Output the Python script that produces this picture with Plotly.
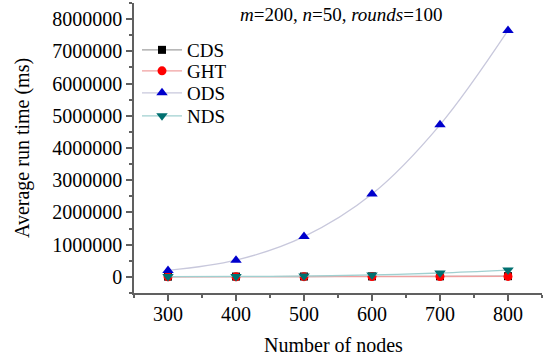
import plotly.graph_objects as go

nodes = [300, 400, 500, 600, 700, 800]
cds = [8000, 10000, 12000, 15000, 18000, 22000]
ght = [5000, 6000, 8000, 10000, 12000, 15000]
ods = [200000, 520000, 1250000, 2570000, 4720000, 7650000]
nds = [10000, 15000, 25000, 60000, 120000, 210000]

y_ticks = [0, 1000000, 2000000, 3000000, 4000000, 5000000, 6000000, 7000000, 8000000]
x_ticks = [300, 400, 500, 600, 700, 800]

FONT = "Liberation Serif, Times New Roman, serif"

W, H = 552, 358
L, R, T, B = 134, 10, 3, 65
PW, PH = W - L - R, H - T - B

series = [
    ("CDS", cds, "#a0a0a0", "black", "square", 8, 50),
    ("GHT", ght, "#f0a0a0", "red", "circle", 9, 71),
    ("ODS", ods, "#c8c8dc", "#0000cc", "triangle-up", 10, 93),
    ("NDS", nds, "#a0d0d0", "#007070", "triangle-down", 10, 116),
]

fig = go.Figure()
legend_layout = {}
for i, (name, vals, lc, mc, sym, ms, ly) in enumerate(series):
    lname = "legend" if i == 0 else f"legend{i + 1}"
    fig.add_trace(go.Scatter(
        x=nodes, y=vals, name=name, mode="lines+markers",
        line=dict(color=lc, width=1.3, shape="spline"),
        marker=dict(color=mc, symbol=sym, size=ms),
        legend=lname,
    ))
    legend_layout[lname] = dict(
        x=(137 - L) / PW, y=(H - B - ly) / PH, xanchor="left", yanchor="middle",
        bgcolor="rgba(0,0,0,0)", font=dict(size=19, family=FONT),
        itemwidth=40,
    )

fig.update_layout(
    width=W, height=H,
    margin=dict(l=L, r=R, t=T, b=B),
    paper_bgcolor="white", plot_bgcolor="white",
    font=dict(family=FONT, size=19, color="black"),
    showlegend=True,
    annotations=[
        dict(text="<i>m</i>=200, <i>n</i>=50, <i>rounds</i>=100",
             x=(341 - L) / PW, y=1.005, xref="paper", yref="paper",
             xanchor="center", yanchor="top", showarrow=False,
             font=dict(size=19, family=FONT)),
        dict(text="Number of nodes", x=(333 - L) / PW, y=-0.135, xref="paper", yref="paper",
             xanchor="center", yanchor="top", showarrow=False,
             font=dict(size=20, family=FONT)),
        dict(text="Average run time (ms)", x=(22 - L) / PW, y=0.5, xref="paper", yref="paper",
             xanchor="center", yanchor="middle", showarrow=False, textangle=-90,
             font=dict(size=20, family=FONT)),
    ],
    **legend_layout,
)

fig.update_xaxes(
    range=[250, 850], tickvals=x_ticks, ticktext=[str(v) for v in x_ticks],
    showgrid=False, zeroline=False, showline=True, linecolor="#606060", linewidth=1.5,
    ticks="outside", ticklen=6, tickcolor="#606060", tickwidth=1.5, automargin=False,
    ticklabelstandoff=-4,
    minor=dict(ticks="outside", ticklen=3, dtick=50, tick0=250, tickcolor="#606060", showgrid=False),
    tickfont=dict(size=20, family=FONT),
)
fig.update_yaxes(
    range=[-500000, 8500000], tickvals=y_ticks, ticktext=[str(v) for v in y_ticks],
    showgrid=False, zeroline=False, showline=True, linecolor="#606060", linewidth=1.5,
    ticks="outside", ticklen=6, tickcolor="#606060", tickwidth=1.5, automargin=False,
    minor=dict(ticks="outside", ticklen=3, dtick=500000, tick0=500000, tickcolor="#606060", showgrid=False),
    tickfont=dict(size=20, family=FONT),
)

fig.write_html("out.html", config={"displayModeBar": False},
               post_script="document.body.style.margin='0';document.body.style.padding='0';")
